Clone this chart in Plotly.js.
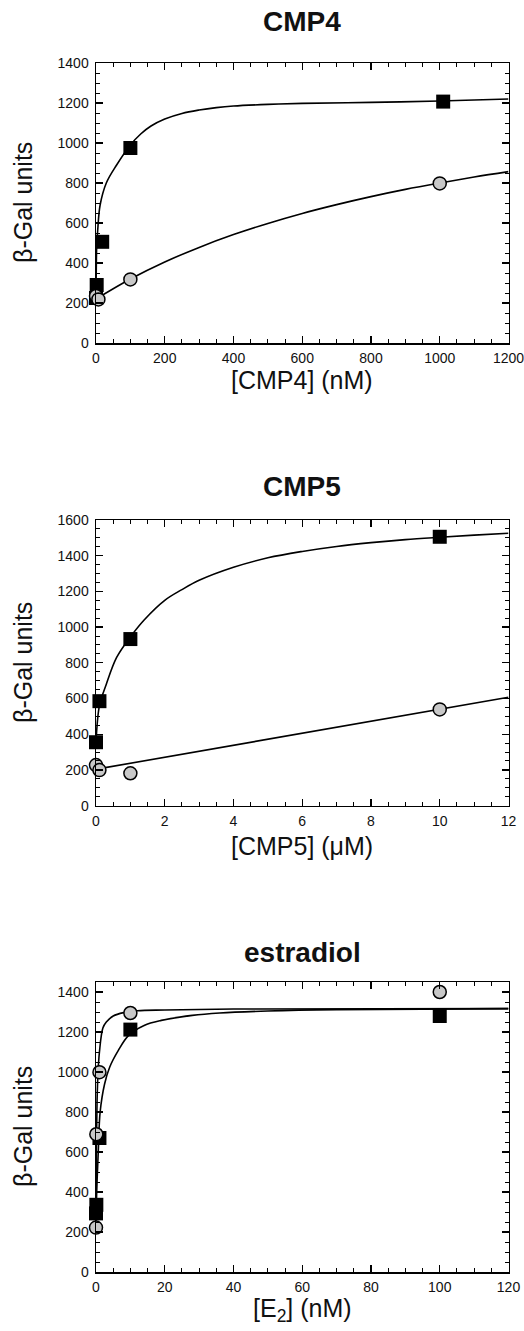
<!DOCTYPE html>
<html>
<head>
<meta charset="utf-8">
<script src="https://cdn.plot.ly/plotly-3.0.1.min.js"></script>
<style>html,body{margin:0;padding:0;background:#fff;}</style>
</head>
<body>
<div id="chart" style="width:524px;height:1331px;"></div>
<script>
// ---------- Panel 1: CMP4 (nM) ----------
const cmp4SqX = [0, 2, 18, 100, 1010];
const cmp4SqY = [225, 290, 506, 975, 1207];
const cmp4CiX = [0, 7, 100, 1000];
const cmp4CiY = [235, 218, 318, 798];
// fitted curves
const cmp4FitSqX = [0, 1, 2, 5, 12, 30, 60, 100, 130, 160, 200, 250, 300, 350, 400, 500, 600, 800, 1000, 1200];
const cmp4FitSqY = [260, 400, 480, 565, 690, 800, 890, 990, 1045, 1085, 1120, 1148, 1165, 1177, 1185, 1193, 1198, 1203, 1210, 1220];
const cmp4FitCiX = [0, 100, 200, 300, 400, 500, 600, 700, 800, 900, 1000, 1100, 1200];
const cmp4FitCiY = [220, 320, 405, 478, 542, 598, 648, 692, 732, 768, 800, 830, 857];
const cmp4XTicks = [0, 200, 400, 600, 800, 1000, 1200];
const cmp4YTicks = [0, 200, 400, 600, 800, 1000, 1200, 1400];

// ---------- Panel 2: CMP5 (uM) ----------
const cmp5SqX = [0, 0.1, 1, 10];
const cmp5SqY = [355, 585, 933, 1506];
const cmp5CiX = [0, 0.1, 1, 10];
const cmp5CiY = [227, 199, 181, 539];
const cmp5FitSqX = [0, 0.1, 0.3, 0.6, 1, 1.4, 2, 2.5, 3, 4, 5, 6, 7, 8, 9, 10, 11, 12];
const cmp5FitSqY = [350, 560, 680, 830, 945, 1040, 1150, 1210, 1262, 1335, 1388, 1424, 1452, 1473, 1490, 1503, 1515, 1526];
const cmp5FitCiX = [0.1, 12];
const cmp5FitCiY = [207, 607];
const cmp5XTicks = [0, 2, 4, 6, 8, 10, 12];
const cmp5YTicks = [0, 200, 400, 600, 800, 1000, 1200, 1400, 1600];

// ---------- Panel 3: estradiol (nM) ----------
const e2SqX = [0, 0.1, 1, 10, 100];
const e2SqY = [293, 336, 670, 1212, 1280];
const e2CiX = [0, 0.1, 1, 10, 100];
const e2CiY = [222, 689, 999, 1295, 1400];
const e2FitSqX = [0, 0.3, 0.7, 1.2, 2.5, 4, 6.5, 9.5, 14, 19, 28, 36, 50, 70, 120];
const e2FitSqY = [290, 450, 620, 800, 940, 1025, 1108, 1183, 1233, 1258, 1283, 1295, 1305, 1312, 1317];
const e2FitCiX = [0, 0.1, 0.3, 0.6, 1, 2, 3, 5, 8, 12, 20, 40, 120];
const e2FitCiY = [220, 600, 850, 1000, 1100, 1220, 1250, 1280, 1297, 1306, 1310, 1315, 1317];
const e2XTicks = [0, 20, 40, 60, 80, 100, 120];
const e2YTicks = [0, 200, 400, 600, 800, 1000, 1200, 1400];

const panelTitles = ['CMP4', 'CMP5', 'estradiol'];
const xTitles = ['[CMP4] (nM)', '[CMP5] (\u03bcM)', '[E<sub>2</sub>] (nM)'];
const yTitle = '\u03b2-Gal units';

const FONT = 'Liberation Sans, Arial, Helvetica, sans-serif';
const H = 1331;
const SQ_COLOR = '#000000';
const CI_FILL = '#c8c8c8';

function fit(x, y, xa, ya, shape) {
  return {x: x, y: y, xaxis: xa, yaxis: ya, type: 'scatter', mode: 'lines',
          line: {color: '#000', width: 1.6, shape: shape || 'spline', smoothing: 1},
          hoverinfo: 'skip', cliponaxis: true};
}
function sq(x, y, xa, ya) {
  return {x: x, y: y, xaxis: xa, yaxis: ya, type: 'scatter', mode: 'markers', cliponaxis: false,
          marker: {symbol: 'square', size: 14, color: SQ_COLOR, line: {color: '#000', width: 0}}};
}
function ci(x, y, xa, ya) {
  return {x: x, y: y, xaxis: xa, yaxis: ya, type: 'scatter', mode: 'markers', cliponaxis: false,
          marker: {symbol: 'circle', size: 13, color: CI_FILL, line: {color: '#000', width: 1.5}}};
}

const data = [
  fit(cmp4FitSqX, cmp4FitSqY, 'x', 'y'), fit(cmp4FitCiX, cmp4FitCiY, 'x', 'y'),
  sq(cmp4SqX, cmp4SqY, 'x', 'y'), ci(cmp4CiX, cmp4CiY, 'x', 'y'),
  fit(cmp5FitSqX, cmp5FitSqY, 'x2', 'y2'), fit(cmp5FitCiX, cmp5FitCiY, 'x2', 'y2', 'linear'),
  sq(cmp5SqX, cmp5SqY, 'x2', 'y2'), ci(cmp5CiX, cmp5CiY, 'x2', 'y2'),
  fit(e2FitSqX, e2FitSqY, 'x3', 'y3'), fit(e2FitCiX, e2FitCiY, 'x3', 'y3'),
  sq(e2SqX, e2SqY, 'x3', 'y3'), ci(e2CiX, e2CiY, 'x3', 'y3')
];

const xDom = [96 / 524, 508.5 / 524];
function py(p) { return 1 - p / H; }

function axis(domain, range, ticks, minorDtick, anchor, standoff) {
  return {
    domain: domain, range: range, tickmode: 'array', tickvals: ticks, ticktext: ticks.map(String),
    anchor: anchor, ticklabeloverflow: 'allow', ticklabelstandoff: standoff,
    ticks: 'inside', ticklen: 7, tickwidth: 1.3, tickcolor: '#000',
    mirror: 'ticks', showline: true, linewidth: 1.5, linecolor: '#000',
    showgrid: false, zeroline: false, fixedrange: true,
    minor: {ticks: 'inside', ticklen: 4, tickwidth: 1, tickcolor: '#000', dtick: minorDtick, tick0: 0, showgrid: false},
    tickfont: {family: FONT, size: 14, color: '#111'}
  };
}

const layout = {
  width: 524, height: 1331,
  margin: {l: 0, r: 0, t: 0, b: 0},
  paper_bgcolor: '#fff', plot_bgcolor: '#fff',
  showlegend: false,
  font: {family: FONT, color: '#111'},
  xaxis: axis(xDom, [0, 1200], cmp4XTicks, 50, 'y', 2),
  yaxis: axis([py(343), py(63)], [0, 1400], cmp4YTicks, 50, 'x', 3),
  xaxis2: axis(xDom, [0, 12], cmp5XTicks, 0.5, 'y2', 2),
  yaxis2: axis([py(805.6), py(520)], [0, 1600], cmp5YTicks, 50, 'x2', 3),
  xaxis3: axis(xDom, [0, 120], e2XTicks, 5, 'y3', 2),
  yaxis3: axis([py(1272), py(982)], [0, 1450], e2YTicks, 50, 'x3', 3),
  annotations: []
};

const titleY = [22, 487, 952];
const xTitleY = [380, 846, 1310];
const yTitleY = [203, 663, 1127];
for (let i = 0; i < 3; i++) {
  layout.annotations.push({xref: 'paper', yref: 'paper', x: 302 / 524, y: py(titleY[i]),
    xanchor: 'center', yanchor: 'middle', showarrow: false,
    text: '<b>' + panelTitles[i] + '</b>', font: {family: FONT, size: 28, color: '#111'}});
  layout.annotations.push({xref: 'paper', yref: 'paper', x: 302 / 524, y: py(xTitleY[i]),
    xanchor: 'center', yanchor: 'middle', showarrow: false,
    text: xTitles[i], font: {family: FONT, size: 25, color: '#111'}});
  layout.annotations.push({xref: 'paper', yref: 'paper', x: 23 / 524, y: py(yTitleY[i]),
    xanchor: 'center', yanchor: 'middle', showarrow: false, textangle: -90,
    text: yTitle, font: {family: FONT, size: 25, color: '#111'}});
}

Plotly.newPlot('chart', data, layout, {staticPlot: true, displayModeBar: false});
</script>
</body>
</html>
